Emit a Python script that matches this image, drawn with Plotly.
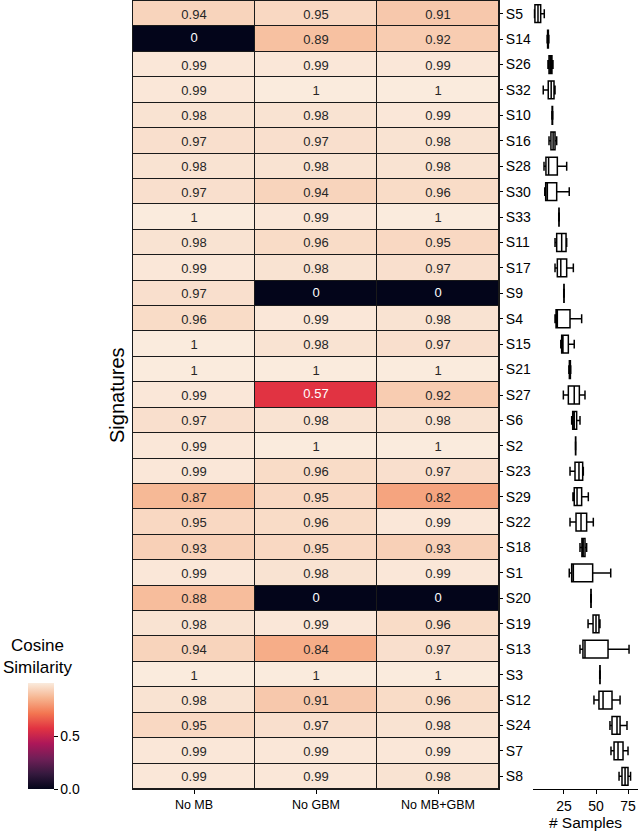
import plotly.graph_objects as go

W, H = 640, 839

signatures = ["S5", "S14", "S26", "S32", "S10", "S16", "S28", "S30", "S33", "S11", "S17",
              "S9", "S4", "S15", "S21", "S27", "S6", "S2", "S23", "S29", "S22", "S18",
              "S1", "S20", "S19", "S13", "S3", "S12", "S24", "S7", "S8"]
conditions = ["No MB", "No GBM", "No MB+GBM"]

no_mb = [0.94, 0, 0.99, 0.99, 0.98, 0.97, 0.98, 0.97, 1, 0.98, 0.99, 0.97, 0.96, 1, 1, 0.99,
         0.97, 0.99, 0.99, 0.87, 0.95, 0.93, 0.99, 0.88, 0.98, 0.94, 1, 0.98, 0.95, 0.99, 0.99]
no_gbm = [0.95, 0.89, 0.99, 1, 0.98, 0.97, 0.98, 0.94, 0.99, 0.96, 0.98, 0, 0.99, 0.98, 1, 0.57,
          0.98, 1, 0.96, 0.95, 0.96, 0.95, 0.98, 0, 0.99, 0.84, 1, 0.91, 0.97, 0.99, 0.99]
no_mb_gbm = [0.91, 0.92, 0.99, 1, 0.99, 0.98, 0.98, 0.96, 1, 0.95, 0.97, 0, 0.98, 0.97, 1, 0.92,
             0.98, 1, 0.97, 0.82, 0.99, 0.93, 0.99, 0, 0.96, 0.97, 1, 0.96, 0.98, 0.99, 0.98]

# box statistics of "# Samples" per signature
lo_fence = [2.0, 11.8, 12.5, 8.8, 15.5, 13.3, 9.4, 10.0, 20.9, 18.0, 18.0, 24.8, 18.0, 22.5, 28.8, 24.5,
            31.0, 33.9, 29.7, 32.0, 29.7, 37.5, 29.1, 45.9, 43.8, 37.5, 52.9, 48.4, 60.9, 61.7, 68.0]
q1 = [2.3, 12.2, 13.3, 12.7, 15.7, 14.8, 10.9, 10.7, 21.0, 19.3, 19.8, 24.9, 18.8, 23.2, 29.2, 28.4,
      31.8, 34.0, 33.6, 33.0, 34.4, 39.0, 31.0, 46.0, 47.7, 39.8, 53.0, 52.3, 62.5, 64.1, 70.3]
median = [4.7, 12.5, 14.5, 15.0, 15.9, 16.5, 13.0, 12.0, 21.1, 23.2, 22.5, 25.0, 19.8, 24.2, 29.5, 33.0,
          33.0, 34.1, 36.7, 35.2, 38.3, 40.0, 32.3, 46.1, 50.0, 41.4, 53.1, 55.5, 66.4, 67.2, 72.7]
q3 = [6.8, 12.8, 15.6, 17.2, 16.1, 18.0, 19.8, 19.3, 21.2, 26.6, 27.1, 25.1, 29.7, 28.4, 30.0, 37.0,
      34.9, 34.2, 39.6, 38.8, 42.7, 41.4, 47.4, 46.2, 52.3, 59.4, 53.2, 62.5, 68.8, 71.1, 75.0]
hi_fence = [9.6, 13.2, 16.4, 18.0, 16.3, 19.3, 27.1, 29.1, 21.3, 27.1, 32.3, 25.2, 38.8, 33.0, 30.3, 41.4,
            37.5, 34.3, 40.1, 44.0, 47.9, 42.7, 61.5, 46.3, 53.1, 75.8, 53.3, 68.8, 74.2, 75.0, 77.0]

rocket = [[0.0, "#03051a"], [0.143, "#35193e"], [0.286, "#701f57"], [0.429, "#ad1759"],
          [0.571, "#e13342"], [0.714, "#f37651"], [0.857, "#f6b48f"], [1.0, "#faebdd"]]

FONT = "Arial, Liberation Sans, sans-serif"

z = [[a, b, c] for a, b, c in zip(no_mb, no_gbm, no_mb_gbm)]
DARK_LIMIT = 0.7
dark_text = [[("" if v < DARK_LIMIT else f"{v:.2g}") for v in row] for row in z]
light_x, light_y, light_t = [], [], []
for sig, row in zip(signatures, z):
    for cond, v in zip(conditions, row):
        if v < DARK_LIMIT:
            light_x.append(cond)
            light_y.append(sig)
            light_t.append(f"{v:.2g}")

# layout geometry (pixels)
hm_left, hm_right = 133, 499
hm_top, hm_bottom = 1, 789
bx_left, bx_right = 533, 638
ydom = [1 - hm_bottom / H, 1 - hm_top / H]
n = len(signatures)

fig = go.Figure()
fig.add_trace(go.Heatmap(
    z=z, x=conditions, y=signatures, colorscale=rocket, zmin=0, zmax=1,
    xgap=1, ygap=1, text=dark_text, texttemplate="%{text}",
    textfont=dict(size=13, family=FONT, color="#262626"),
    hoverinfo="skip",
    colorbar=dict(
        x=28 / W, xanchor="left", y=1 - hm_bottom / H, yanchor="bottom",
        thickness=26, thicknessmode="pixels", len=106, lenmode="pixels",
        tickvals=[0, 0.5], ticktext=["0.0", "0.5"], ticks="outside", ticklen=4,
        tickcolor="black", tickfont=dict(size=14, family=FONT, color="black"),
        outlinewidth=0, xpad=0, ypad=0,
    ),
))
fig.add_trace(go.Scatter(
    x=light_x, y=light_y, text=light_t, mode="text",
    textfont=dict(size=13, family=FONT, color="white"),
    showlegend=False, hoverinfo="skip", xaxis="x", yaxis="y",
))
fig.add_trace(go.Box(
    y=signatures, q1=q1, median=median, q3=q3, lowerfence=lo_fence, upperfence=hi_fence,
    orientation="h", xaxis="x2", yaxis="y", fillcolor="white",
    line=dict(color="black", width=1.5), whiskerwidth=0.5, width=0.7,
    boxpoints=False, showlegend=False, hoverinfo="skip",
))

fig.update_layout(
    width=W, height=H, margin=dict(l=0, r=0, t=0, b=0),
    paper_bgcolor="white", plot_bgcolor="white",
    font=dict(family=FONT, color="black"),
    xaxis=dict(domain=[hm_left / W, hm_right / W], anchor="y", side="bottom",
               range=[-0.5, len(conditions) - 0.5],
               categoryorder="array", categoryarray=conditions,
               showline=True, mirror=True, linecolor="#1a1a1a", linewidth=1,
               ticks="outside", ticklen=4, tickcolor="black",
               tickfont=dict(size=12.5), showgrid=False, zeroline=False, automargin=False),
    yaxis=dict(domain=ydom, anchor="x", side="right", range=[n - 0.5, -0.5],
               categoryorder="array", categoryarray=signatures,
               showline=True, mirror=True, linecolor="#1a1a1a", linewidth=1,
               ticks="outside", ticklen=3, tickcolor="black",
               tickfont=dict(size=14), showgrid=False, zeroline=False, automargin=False),
    xaxis2=dict(domain=[bx_left / W, bx_right / W], anchor="y", range=[0.8, 82.8],
                tickvals=[25, 50, 75], ticks="outside", ticklen=4, tickcolor="black",
                showline=True, linecolor="black", linewidth=1, showgrid=False, zeroline=False,
                tickfont=dict(size=14), title=dict(text="# Samples", font=dict(size=15.5), standoff=2),
                automargin=False),
    shapes=[dict(type="rect", xref="x domain", yref="y domain", x0=0, x1=1, y0=0, y1=1,
                 fillcolor="#1a1a1a", line=dict(width=0), layer="below")],
    annotations=[
        dict(text="Signatures", x=117 / W, y=1 - (hm_top + hm_bottom) / 2 / H, xref="paper", yref="paper",
             textangle=-90, showarrow=False, font=dict(size=20), xanchor="center", yanchor="middle"),
        dict(text="Cosine<br>Similarity", x=37 / W, y=1 - (hm_bottom - 106 - 4) / H,
             xref="paper", yref="paper", showarrow=False, font=dict(size=17),
             xanchor="center", yanchor="bottom"),
    ],
)

fig.write_html("out.html", config={"displayModeBar": False},
               post_script="document.body.style.margin='0';document.body.style.overflow='hidden';")
